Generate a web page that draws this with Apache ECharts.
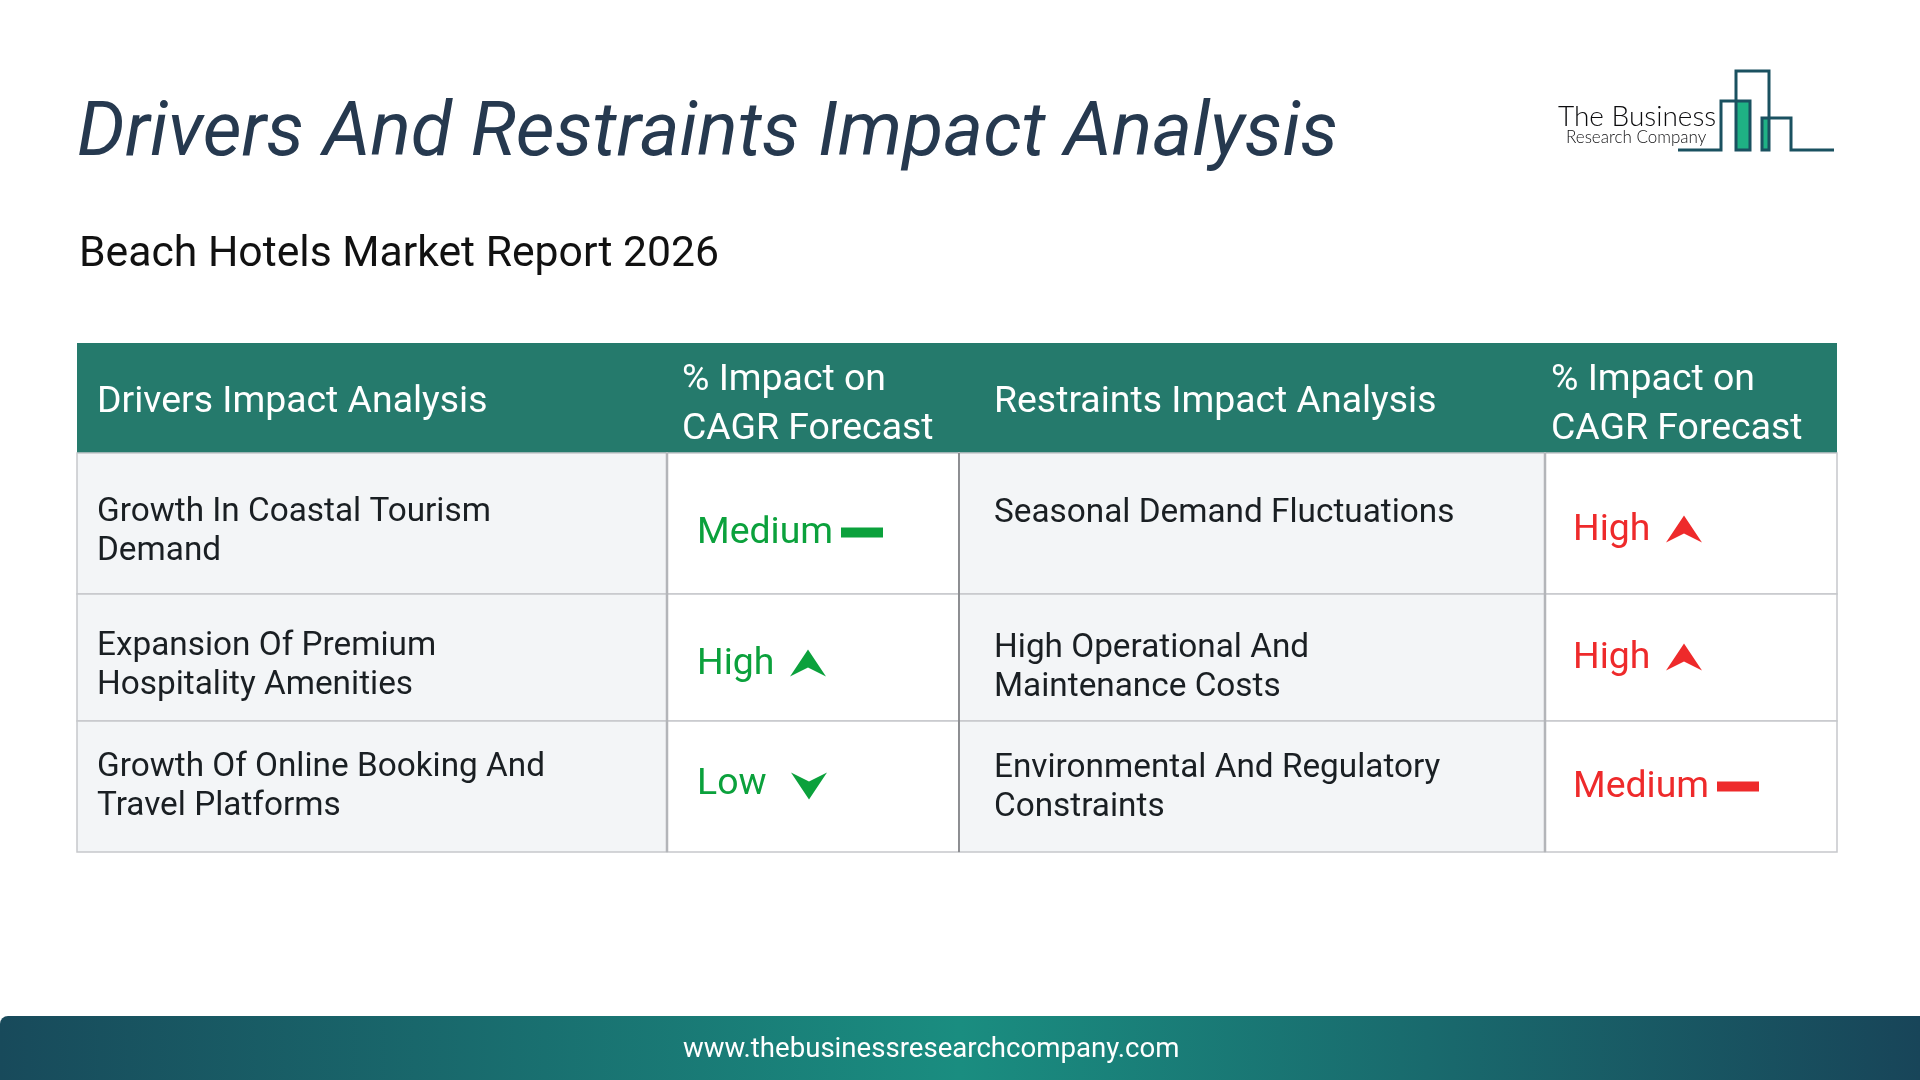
<!DOCTYPE html>
<html>
<head>
<meta charset="utf-8">
<title>Drivers And Restraints Impact Analysis</title>
<script src="https://cdn.jsdelivr.net/npm/echarts@6/dist/echarts.min.js"></script>
<style>
  html, body { margin: 0; padding: 0; background: #fff; }
  #chart { width: 1920px; height: 1080px; }
</style>
</head>
<body>
<div id="chart"></div>
<script>
const titleText = "Drivers And Restraints Impact Analysis";
const subtitleText = "Beach Hotels Market Report 2026";
const footerText = "www.thebusinessresearchcompany.com";
const headers = [
  "Drivers Impact Analysis",
  "% Impact on\nCAGR Forecast",
  "Restraints Impact Analysis",
  "% Impact on\nCAGR Forecast",
];
const drivers = [
  "Growth In Coastal Tourism\nDemand",
  "Expansion Of Premium\nHospitality Amenities",
  "Growth Of Online Booking And\nTravel Platforms",
];
const driverImpact = ["Medium", "High", "Low"];
const restraints = [
  "Seasonal Demand Fluctuations",
  "High Operational And\nMaintenance Costs",
  "Environmental And Regulatory\nConstraints",
];
const restraintImpact = ["High", "High", "Medium"];

// table layout, in pixels from the top left corner of the table
const colEdges = [0, 590, 882, 1468, 1760];
const rowEdges = [0, 110, 251, 378, 509];
const textInset = [20, 30, 35, 28];
const headerInset = [20, 15, 35, 6];
const nameCenters = [
  [189, 323, 444],
  [171, 325, 445],
];
const impactCenters = [
  [191, 322, 442],
  [188, 316, 445],
];
const iconOffset = { Medium: 165, High: 111, Low: 112 };

const GREEN = "#0ba13c";
const RED = "#ee2a2b";
const ICONS = {
  High: [[0, -14], [18, 13], [0, 4], [-18, 13]],
  Low: [[0, 16], [18, -11], [0, -2], [-18, -11]],
  Medium: [[-21, -5], [21, -5], [21, 5], [-21, 5]],
};

const cells = [];
rowEdges.slice(1).forEach((_, row) => {
  colEdges.slice(1).forEach((_, col) => cells.push([col, row]));
});

function cellText(col, row) {
  if (row === 0) return headers[col];
  return [drivers, driverImpact, restraints, restraintImpact][col][row - 1];
}

function renderCell(params, api) {
  const col = api.value(0);
  const row = api.value(1);
  const topLeft = api.coord([colEdges[col], rowEdges[row]]);
  const bottomRight = api.coord([colEdges[col + 1], rowEdges[row + 1]]);
  const isImpact = col % 2 === 1;
  const children = [];

  children.push({
    type: "rect",
    shape: {
      x: topLeft[0],
      y: topLeft[1],
      width: bottomRight[0] - topLeft[0],
      height: bottomRight[1] - topLeft[1],
    },
    style:
      row === 0
        ? { fill: "#257a6c" }
        : {
            fill: isImpact ? "#ffffff" : "#f3f5f7",
            stroke: "#c6c8cb",
            lineWidth: 1.5,
          },
  });

  if (row === 0) {
    children.push({
      type: "text",
      style: {
        x: topLeft[0] + headerInset[col],
        y: api.coord([0, isImpact ? 62 : 60])[1],
        text: cellText(col, row),
        fill: "#ffffff",
        font: "37.4px Roboto",
        lineHeight: 49.5,
        verticalAlign: "middle",
      },
    });
  } else if (!isImpact) {
    const side = col === 0 ? 0 : 1;
    children.push({
      type: "text",
      style: {
        x: topLeft[0] + textInset[col],
        y: api.coord([0, nameCenters[side][row - 1]])[1],
        text: cellText(col, row),
        fill: "#1a1f23",
        font: "33.35px Roboto",
        lineHeight: 39,
        verticalAlign: "middle",
      },
    });
  } else {
    const side = col === 1 ? 0 : 1;
    const color = side === 0 ? GREEN : RED;
    const level = cellText(col, row);
    const x = topLeft[0] + textInset[col];
    const y = api.coord([0, impactCenters[side][row - 1]])[1];
    children.push({
      type: "text",
      style: {
        x: x,
        y: y,
        text: level,
        fill: color,
        font: "37.4px Roboto",
        verticalAlign: "middle",
      },
    });
    children.push({
      type: "polygon",
      shape: {
        points: ICONS[level].map((p) => [
          x + iconOffset[level] + p[0],
          y - 1.5 + p[1],
        ]),
      },
      style: { fill: color },
    });
  }
  return { type: "group", children: children };
}

// the heavier column rules that sit over the cell borders
function renderRule(params, api) {
  const col = api.value(0);
  const top = api.coord([colEdges[col], rowEdges[1]]);
  const bottom = api.coord([colEdges[col], rowEdges[4]]);
  return {
    type: "line",
    shape: { x1: top[0], y1: top[1], x2: bottom[0], y2: bottom[1] },
    style: {
      stroke: col === 2 ? "#77797c" : "#b3b5b9",
      lineWidth: col === 2 ? 1.5 : 2.5,
    },
  };
}

const chart = echarts.init(document.getElementById("chart"), null, {
  renderer: "canvas",
});

const option = {
  backgroundColor: "#fff",
  animation: false,
  title: [
    {
      text: titleText,
      left: 72,
      top: 93,
      textStyle: {
        fontFamily: "Roboto",
        fontStyle: "italic",
        fontWeight: "normal",
        fontSize: 75.5,
        color: "#26394f",
      },
    },
    {
      text: subtitleText,
      left: 74,
      top: 229,
      textStyle: {
        fontFamily: "Roboto",
        fontWeight: "normal",
        fontSize: 42.7,
        color: "#111111",
      },
    },
  ],
  grid: { left: 77, top: 343, width: 1760, height: 509 },
  xAxis: { type: "value", min: 0, max: 1760, show: false },
  yAxis: { type: "value", min: 0, max: 509, inverse: true, show: false },
  series: [
    {
      type: "custom",
      data: cells,
      renderItem: renderCell,
      clip: false,
      silent: true,
    },
    {
      type: "custom",
      data: [[1], [2], [3]],
      renderItem: renderRule,
      encode: { x: 0 },
      clip: false,
      silent: true,
    },
  ],
  graphic: [
    // footer band
    {
      type: "rect",
      left: 0,
      top: 1016,
      shape: { width: 1920, height: 64, r: [8, 0, 0, 0] },
      style: {
        fill: {
          type: "linear",
          x: 0,
          y: 0,
          x2: 1,
          y2: 0,
          colorStops: [
            { offset: 0, color: "#184a5b" },
            { offset: 0.5, color: "#1a8d80" },
            { offset: 1, color: "#184559" },
          ],
        },
      },
    },
    {
      type: "text",
      x: 683,
      y: 1036,
      style: {
        text: footerText,
        fill: "#ffffff",
        font: "27.6px Roboto",
      },
    },
    // logo
    { type: "rect", shape: { x: 1736, y: 101, width: 14, height: 49 }, style: { fill: "#1fb184" } },
    { type: "rect", shape: { x: 1762, y: 118, width: 7, height: 32 }, style: { fill: "#1fb184" } },
    {
      type: "polyline",
      shape: {
        points: [
          [1678, 150], [1721, 150], [1721, 101], [1750, 101], [1750, 150],
          [1736, 150], [1736, 71], [1769, 71], [1769, 150], [1762, 150],
          [1762, 118], [1791, 118], [1791, 150], [1834, 150],
        ],
      },
      style: { stroke: "#1a5160", lineWidth: 3, fill: null },
    },
    {
      type: "text",
      x: 1558,
      y: 103,
      style: { text: "The Business", fill: "#0c0c0e", font: "300 28px Lato" },
    },
    {
      type: "text",
      x: 1566,
      y: 129,
      style: { text: "Research Company", fill: "#111113", font: "300 17px Lato" },
    },
  ],
};

chart.setOption(option);
</script>
</body>
</html>
